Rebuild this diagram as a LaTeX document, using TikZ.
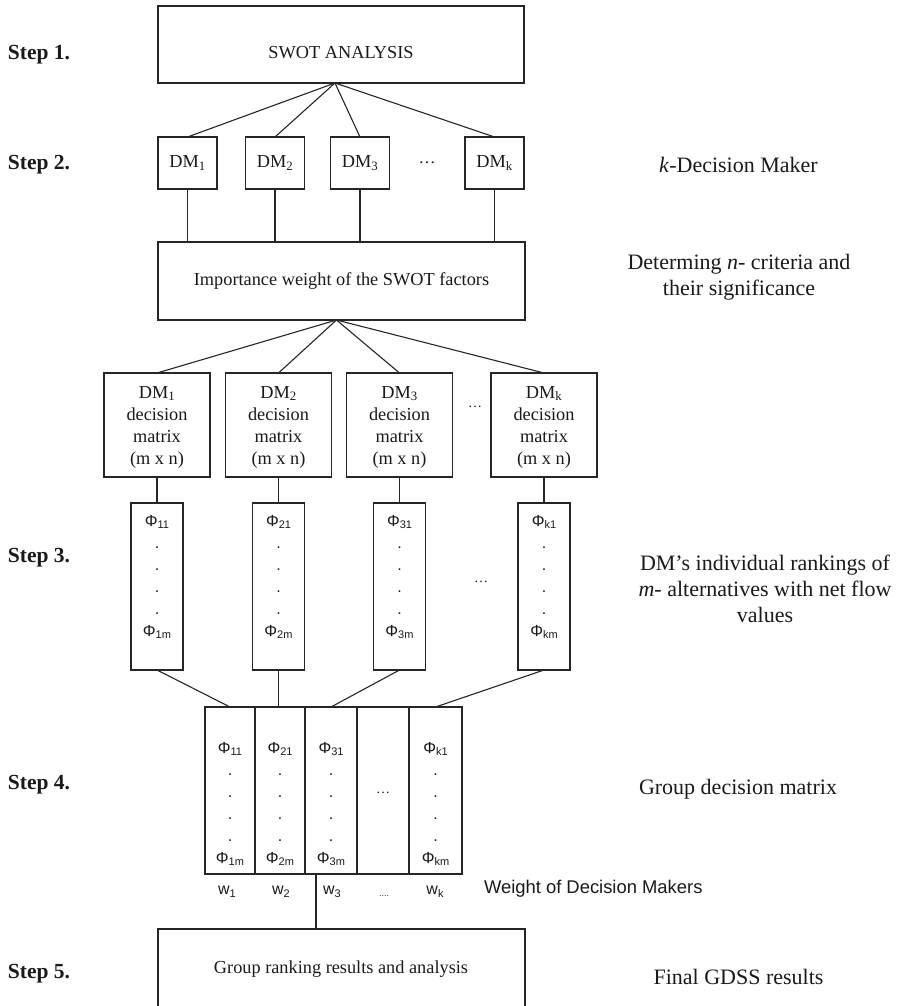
\documentclass[tikz,border=0pt]{standalone}
\usepackage{fontspec}
\setmainfont{Liberation Serif}
\newfontfamily\arialf{Liberation Sans}
\definecolor{lc}{HTML}{262626}
\definecolor{tc}{HTML}{1A1A1A}
\newcommand\phisub[1]{Φ\raisebox{-2.5pt}{\fontsize{11}{11}\selectfont #1}}
\newcommand\wsub[1]{w\raisebox{-2.5pt}{\fontsize{11}{11}\selectfont #1}}
\tikzset{
  every node/.style={inner sep=0pt, outer sep=0pt, text=tc},
  rect/.style 2 args={draw=lc, line width=1.1pt, minimum width=#1pt, minimum height=#2pt},
  conn/.style={draw=lc, line width=1.1pt},
  boxtxt/.style={font=\fontsize{18.3}{22}\selectfont, align=center},
  sidetxt/.style={font=\fontsize{22}{26}\selectfont, align=center},
  steptxt/.style={font=\fontsize{21.5}{26}\selectfont\bfseries, anchor=west},
  phitxt/.style={font=\arialf\fontsize{16}{22}\selectfont, align=center},
  dotstxt/.style={font=\fontsize{14}{14}\selectfont},
  sanstxt/.style={font=\arialf\fontsize{16}{20}\selectfont},
}
\begin{document}
\begin{tikzpicture}[x=1pt,y=-1pt]
\useasboundingbox[fill=white] (0,0) rectangle (901,1006);

% step labels
\node[steptxt] (s1) at (8,55) {Step 1.};
\node[steptxt] (s2) at (8,165) {Step 2.};
\node[steptxt] (s3) at (8,558) {Step 3.};
\node[steptxt] (s4) at (8,785) {Step 4.};
\node[steptxt] (s5) at (8,974) {Step 5.};

% SWOT
\node[rect={366}{77}] (swot) at (341,44.5) {};
\node[boxtxt] (swott) at (341,53) {SWOT ANALYSIS};
\coordinate (apexA) at ([xshift=-6pt]swot.south);

% DM boxes
\foreach \i/\x in {1/187.5, 2/275, 3/360, k/494.5}
  \node[rect={59}{52}, boxtxt] (dm\i) at (\x,163) {DM\textsubscript{\i}};
\node[font=\fontsize{17}{17}\selectfont] (dmdots) at (427,163) {…};

% importance
\node[rect={367}{78}, boxtxt] (imp) at (341.5,281) {Importance weight of the SWOT factors};
\coordinate (apexB) at ([xshift=-5pt]imp.south);

\foreach \i in {1,2,3,k} {
  \draw[conn] (apexA) -- (dm\i.north);
  \draw[conn] (dm\i.south) -- (dm\i.south |- imp.north);
}

% decision matrices and net flow columns
\foreach \i/\x in {1/157, 2/278.5, 3/399.5, k/544} {
  \node[rect={106}{104}] (dmx\i) at (\x,425) {};
  \node[boxtxt] (dmxt\i) at (\x,427) {DM\textsubscript{\i}\\decision\\matrix\\(m x n)};
  \node[rect={52}{167}] (phi\i) at (\x,586.5) {};
  \node[phitxt] (phit\i) at (\x,577) {\phisub{\i1}\\.\\.\\.\\.\\\phisub{\i m}};
  \draw[conn] (apexB) -- (dmx\i.north);
  \draw[conn] (dmx\i.south) -- (phi\i.north);
}
\node[dotstxt] (dmxdots) at (475,407) {…};
\node[dotstxt] (phidots) at (481,582) {…};

% group decision matrix
\foreach \i/\x/\w in {1/230/50, 2/280/50, 3/331/52, 4/383/52, 5/435.5/53}
  \node[rect={\w}{167}] (g\i) at (\x,790.5) {};
\foreach \i/\j in {1/1, 2/2, 3/3, 5/k}
  \node[phitxt] (gt\i) at ([yshift=-13.5pt]g\i.center) {\phisub{\j1}\\.\\.\\.\\.\\\phisub{\j m}};
\node[dotstxt] (gdots) at (383,793) {…};

\draw[conn] (phi1.south) -- (g1.north);
\draw[conn] (phi2.south) -- (phi2.south |- g2.north);
\draw[conn] (phi3.south) -- (g3.north);
\draw[conn] (phik.south) -- (g5.north);

% weights
\node[sanstxt] (w1) at (227,892) {\wsub{1}};
\node[sanstxt] (w2) at (281,892) {\wsub{2}};
\node[sanstxt] (w3) at (332,892) {\wsub{3}};
\node[font=\arialf\fontsize{9}{9}\selectfont] (wdots) at (384,896) {....};
\node[sanstxt] (wk) at (435,892) {\wsub{k}};
\node[font=\arialf\fontsize{18.4}{22}\selectfont, anchor=west] (wlab) at (484,889) {Weight of Decision Makers};

% final
\node[rect={367}{100}] (final) at (341.5,979) {};
\node[boxtxt] (finalt) at (341,969) {Group ranking results and analysis};
\coordinate (gb) at ([xshift=11pt]g3.south west);
\draw[conn] (gb) -- (gb |- final.north);

% right-side texts
\node[sidetxt] (r1) at (738.5,165) {\textit{k}-Decision Maker};
\node[sidetxt] (r2) at (739,277) {Determing \textit{n}- criteria and\\their significance};
\node[sidetxt] (r3) at (765,589) {DM’s individual rankings of\\\textit{m}- alternatives with net flow\\values};
\node[sidetxt] (r4) at (738,789) {Group decision matrix};
\node[sidetxt] (r5) at (738.5,977) {Final GDSS results};
\end{tikzpicture}
\end{document}
